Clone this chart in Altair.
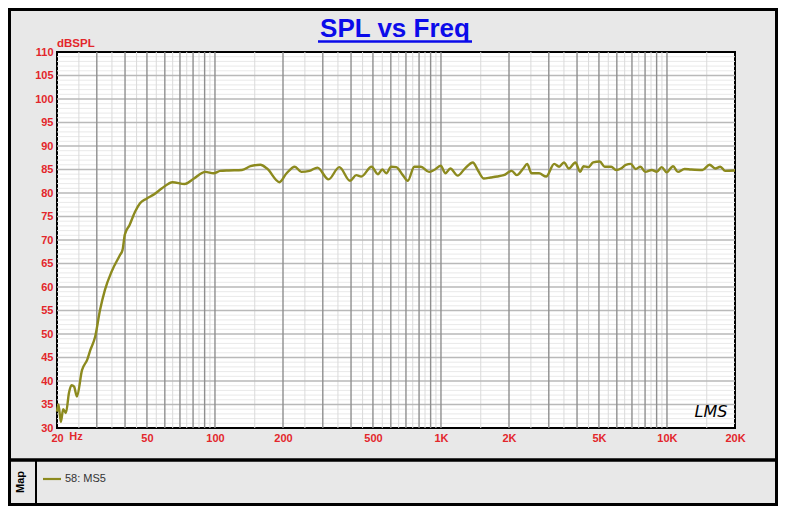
import altair as alt
import pandas as pd

# ---- data ----
freq = [20, 20.3, 20.8, 21.3, 21.9, 22.6, 23.2, 23.8, 24.5, 25.8, 27.2, 28.1, 29.5, 31, 32.6,
        34.9, 38, 39, 39.9, 41.9, 44.3, 46.6, 49.8, 53.3, 58.3, 64.9, 73.4, 80.8, 90.7, 98.6,
        105.5, 115, 131.7, 143.6, 158.9, 170, 192.8, 207.5, 225.5, 241, 262, 284, 318, 355,
        396, 422, 444, 493, 526, 550, 573, 602, 634, 678, 713, 762, 815, 886, 932, 997, 1047,
        1100, 1186, 1276, 1384, 1454, 1544, 1660, 1773, 1895, 2058, 2164, 2312, 2407, 2516,
        2716, 2920, 3170, 3332, 3501, 3679, 3932, 4132, 4270, 4489, 4716, 5042, 5300, 5665,
        5954, 6257, 6576, 6911, 7264, 7634, 8023, 8576, 9013, 9473, 9956, 10641, 11183, 11953,
        12775, 14354, 15432, 16382, 17219, 18097, 20000]
spl = [33.5, 35.0, 31.3, 34.0, 33.2, 37.5, 39.1, 38.8, 36.7, 42.3, 44.5, 46.6, 49.4, 55.1, 59.4,
       63.3, 66.8, 67.9, 71.1, 73.2, 76.0, 77.8, 78.8, 79.6, 81.0, 82.3, 81.9, 83.1, 84.5, 84.2,
       84.7, 84.8, 84.9, 85.7, 86.0, 85.2, 82.3, 84.2, 85.6, 84.5, 84.7, 85.4, 82.9, 85.5,
       82.6, 83.8, 83.5, 85.6, 84.0, 85.0, 84.2, 85.6, 85.5, 83.8, 82.6, 85.6, 85.6, 84.5, 84.9, 85.8, 84.2,
       85.2, 83.7, 85.2, 86.5, 84.9, 83.1, 83.3, 83.5, 83.8, 84.7, 83.8, 85.2, 86.2, 84.2,
       84.2, 83.5, 86.2, 85.6, 86.5, 85.2, 86.5, 84.5, 85.7, 85.5, 86.5, 86.7, 85.6, 85.6,
       84.9, 85.2, 86.0, 86.2, 85.1, 85.6, 84.5, 84.9, 84.5, 85.5, 84.4, 85.7, 84.5, 85.1,
       85.0, 84.9, 86.0, 85.2, 85.6, 84.7, 84.8]

x_ticks = [20, 50, 100, 200, 500, 1000, 2000, 5000, 10000, 20000]
y_ticks = list(range(30, 111, 5))

decades = [10, 100, 1000, 10000]
x_major = [m * d for d in decades for m in range(1, 10) if 20 < m * d < 20000]
x_minor = [(m + 0.5) * d for d in decades for m in range(1, 10) if 20 < (m + 0.5) * d < 20000]
y_major = list(range(35, 110, 5))
y_minor = [v for v in range(31, 110) if v % 5 != 0]

series_name = "58: MS5"
title_text = "SPL vs Freq"

# ---- styling ----
W, H = 678, 376
RED = "#e3262b"
OLIVE = "#8c8a1e"
BLUE = "#0b0bea"
FONT = "Liberation Sans"

XS = alt.Scale(type="log", domain=[20, 20000], nice=False)
YS = alt.Scale(domain=[30, 110], nice=False, zero=False)

XA = alt.Axis(values=x_ticks, grid=False, ticks=False, domain=False,
              labelExpr="datum.value >= 1000 ? (datum.value/1000) + 'K' : datum.value + ''",
              labelColor=RED, labelFont=FONT, labelFontWeight="bold", labelFontSize=11,
              labelPadding=4, labelFlush=False, labelOverlap=False)
YA = alt.Axis(values=y_ticks, grid=False, ticks=False, domain=False,
              labelColor=RED, labelFont=FONT, labelFontWeight="bold", labelFontSize=11,
              labelPadding=4, labelFlush=False, labelOverlap=False)

one = alt.Data(values=[{}])

gx_minor = alt.Chart(pd.DataFrame({"f": x_minor})).mark_rule(color="#dadada", strokeWidth=1).encode(
    x=alt.X("f:Q", scale=XS, axis=XA, title=None))
gx_major = alt.Chart(pd.DataFrame({"f": x_major})).mark_rule(color="#8f8f8f", strokeWidth=1.4).encode(
    x=alt.X("f:Q", scale=XS, axis=XA, title=None))
gy_minor = alt.Chart(pd.DataFrame({"v": y_minor})).mark_rule(color="#e9e9e9", strokeWidth=1).encode(
    y=alt.Y("v:Q", scale=YS, axis=YA, title=None))
gy_major = alt.Chart(pd.DataFrame({"v": y_major})).mark_rule(color="#b9b9b9", strokeWidth=1.6).encode(
    y=alt.Y("v:Q", scale=YS, axis=YA, title=None))

curve = alt.Chart(pd.DataFrame({"f": freq, "spl": spl})).mark_line(
    color=OLIVE, strokeWidth=2.4, interpolate="monotone").encode(
    x=alt.X("f:Q", scale=XS, title=None, axis=XA),
    y=alt.Y("spl:Q", scale=YS, title=None, axis=YA),
)


def txt(s, x, y, **kw):
    return alt.Chart(one).mark_text(**kw).encode(
        x=alt.value(x), y=alt.value(y), text=alt.value(s))


def rule(x, x2, y, y2, **kw):
    return alt.Chart(one).mark_rule(**kw).encode(
        x=alt.value(x), x2=alt.value(x2), y=alt.value(y), y2=alt.value(y2))


title = txt(title_text, 338, -15, font=FONT, fontSize=26, fontWeight="bold", color=BLUE,
            align="center", baseline="alphabetic")
underline = rule(261, 415, -10.5, -10.5, color=BLUE, strokeWidth=2.5)
ylab = txt("dBSPL", 0, -5.3, font=FONT, fontSize=11.5, fontWeight="bold", color=RED,
           align="left", baseline="alphabetic")
hz = txt("Hz", 19, 385, font=FONT, fontSize=11, fontWeight="bold", color=RED,
         align="center", baseline="middle")
lms = txt("LMS", 654, 360, font="DejaVu Sans", fontSize=16, fontStyle="italic", color="black",
          align="center", baseline="middle")

frame = alt.Chart(one).mark_rect(fill="transparent", stroke="black", strokeWidth=3).encode(
    x=alt.value(-47.5), x2=alt.value(719.5), y=alt.value(-42.5), y2=alt.value(452.5))
divider = rule(-47.5, 719.5, 408, 408, color="black", strokeWidth=3.5)
legsep = rule(-21, -21, 408, 452.5, color="black", strokeWidth=2)
maptxt = txt("Map", -36, 430, font=FONT, fontSize=11, fontWeight="bold", color="black",
             align="center", baseline="middle", angle=270)
legline = rule(-14, 4, 427, 427, color=OLIVE, strokeWidth=2.2)
legtxt = txt(series_name, 8, 427, font=FONT, fontSize=11, color="#333333",
             align="left", baseline="middle")

chart = alt.layer(
    gy_minor, gx_minor, gy_major, gx_major, curve,
    title, underline, ylab, hz, lms, frame, divider, legsep, maptxt, legline, legtxt,
).properties(
    width=W, height=H,
    autosize=alt.AutoSizeParams(type="none"),
    padding={"left": 49, "top": 44, "right": 43, "bottom": 78},
    background="#e8e8e8",
).configure_view(fill="white", stroke="black", strokeWidth=2)

chart.save("out.html", embed_options={"renderer": "svg", "actions": False})
